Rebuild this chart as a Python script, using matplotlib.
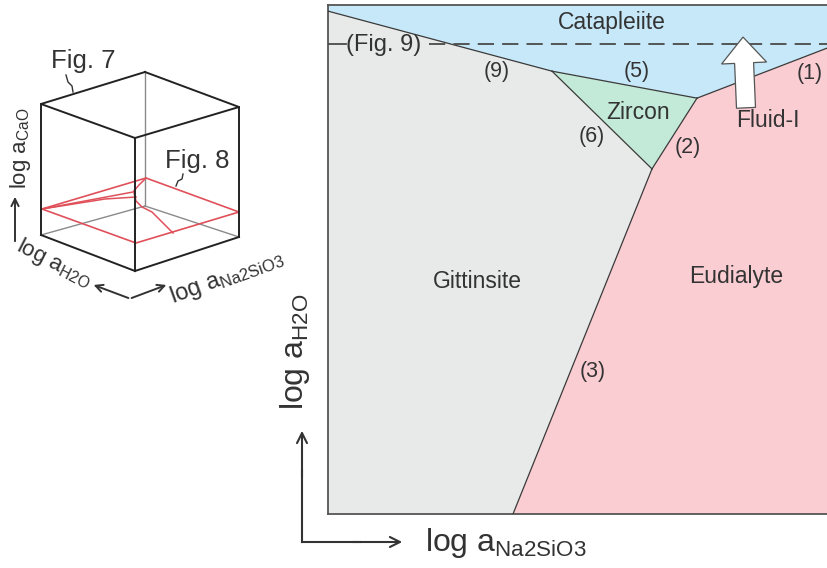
import matplotlib
matplotlib.use("Agg")
import matplotlib.pyplot as plt
from matplotlib.patches import Polygon, FancyArrow

plt.rcParams["font.family"] = ["Liberation Sans", "DejaVu Sans"]
plt.rcParams["mathtext.fontset"] = "custom"
plt.rcParams["mathtext.rm"] = "Liberation Sans"
plt.rcParams["mathtext.it"] = "Liberation Sans"

# ---- phase-field geometry (relative log-activity units, 0-100) ----
left_top = (0.0, 98.8)      # catapleiite / gittinsite boundary at left edge
pt_A = (44.8, 87.0)         # catapleiite-gittinsite-zircon
pt_B = (73.8, 81.7)         # catapleiite-zircon-eudialyte
right_top = (100.0, 91.6)   # catapleiite / eudialyte boundary at right edge
pt_C = (64.8, 67.8)         # gittinsite-zircon-eudialyte
bottom_end = (37.0, 0.0)    # gittinsite / eudialyte boundary at bottom edge
fig9_level = 92.4           # section of Fig. 9

field_names = ["Catapleiite", "Gittinsite", "Zircon", "Eudialyte"]
field_colors = ["#c6e8f8", "#e8e9e9", "#c3ead8", "#f9cdd2"]
field_polys = [
    [(0, 100), left_top, pt_A, pt_B, right_top, (100, 100)],
    [(0, 0), left_top, pt_A, pt_C, bottom_end],
    [pt_A, pt_B, pt_C],
    [bottom_end, pt_C, pt_B, right_top, (100, 0)],
]
field_label_pos = [(56.8, 96.6), (29.8, 45.6), (62.0, 78.8), (81.7, 46.6)]

reaction_labels = ["(1)", "(2)", "(3)", "(5)", "(6)", "(9)"]
reaction_pos = [(96.4, 86.6), (72.0, 72.1), (53.0, 27.9),
                (61.8, 87.0), (52.8, 74.1), (33.8, 87.0)]

boundaries = [
    [left_top, pt_A],
    [pt_A, pt_B],
    [pt_B, right_top],
    [pt_A, pt_C],
    [pt_B, pt_C],
    [pt_C, bottom_end],
]

# fluid evolution arrow (tail, tip)
fluid_tail = (83.6, 79.8)
fluid_tip = (83.0, 93.7)

# ---- inset block diagram (figure pixel coordinates) ----
cube_top = [(145, 72), (41, 104), (135, 138), (239, 107)]
cube_bottom = [(145, 206), (41, 235), (135, 271), (239, 237)]
section_plane = [(42, 209), (136, 243), (239, 212), (146, 178)]
section_lines = [
    [(42, 209), (133, 192), (139, 185), (146, 178)],
    [(42, 209), (105, 199), (136, 197)],
    [(134, 193), (136, 201), (142, 207), (152, 212), (173, 233)],
]

TXT = "#333333"
LINE = "#3a3a3a"
RED = "#e0505a"

fig = plt.figure(figsize=(8.28, 5.68), dpi=100)

# ---- main diagram ----
W, H = 828.0, 568.0
ax = fig.add_axes([328 / W, (H - 514) / H, 500 / W, 509 / H])
ax.set_xlim(0, 100)
ax.set_ylim(0, 100)
for poly, col in zip(field_polys, field_colors):
    ax.add_patch(Polygon(poly, closed=True, facecolor=col, edgecolor="none", zorder=1))
for seg_pts in boundaries:
    xs, ys = zip(*seg_pts)
    ax.plot(xs, ys, color=LINE, lw=0.9, zorder=3)

ax.plot([20.2, 100], [fig9_level, fig9_level], color="#4a4a4a", lw=1.3,
        dashes=(9, 4.5), zorder=4)
ax.plot([0, 3.6], [fig9_level, fig9_level], color="#4a4a4a", lw=1.3, zorder=4)
ax.text(3.7, fig9_level - 0.2, "(Fig. 9)", ha="left", va="center", fontsize=17, color=TXT, zorder=5)

for name, (x, y) in zip(field_names, field_label_pos):
    ax.text(x, y, name, ha="center", va="center", fontsize=16.5, color=TXT, zorder=5)
for lab, (x, y) in zip(reaction_labels, reaction_pos):
    ax.text(x, y, lab, ha="center", va="center", fontsize=15.5, color=TXT, zorder=5)

ax.add_patch(FancyArrow(fluid_tail[0], fluid_tail[1], fluid_tip[0] - fluid_tail[0],
                        fluid_tip[1] - fluid_tail[1], width=3.8, head_width=9.0,
                        head_length=5.1, length_includes_head=True,
                        facecolor="white", edgecolor="#555555", lw=0.9, zorder=6))
ax.text(88.0, 77.4, "Fluid-I", ha="center", va="center", fontsize=16.5, color=TXT, zorder=5)

ax.set_xticks([])
ax.set_yticks([])
for side in ["left", "top", "bottom"]:
    ax.spines[side].set_color("#555555")
    ax.spines[side].set_linewidth(1.3)
ax.spines["right"].set_visible(False)

# ---- overlay for axis arrows, labels and the block diagram ----
ov = fig.add_axes([0, 0, 1, 1], zorder=10)
ov.set_xlim(0, W)
ov.set_ylim(H, 0)
ov.axis("off")
ov.patch.set_visible(False)

arrow_kw = dict(arrowstyle="->", color="#333333", lw=1.5, mutation_scale=18)
ov.plot([302, 302], [542, 470], color="#333333", lw=1.5)
ov.annotate("", xy=(302, 428), xytext=(302, 480), arrowprops=arrow_kw)
ov.plot([302, 360], [542, 542], color="#333333", lw=1.5)
ov.annotate("", xy=(405, 542), xytext=(350, 542), arrowprops=arrow_kw)
ov.text(295, 352, r"log a$_{\mathregular{H2O}}$", rotation=90, ha="center", va="center",
        fontsize=23, color=TXT)
ov.text(425, 543, r"log a$_{\mathregular{Na2SiO3}}$", ha="left", va="center",
        fontsize=23, color=TXT)

# block diagram
def seg(p, q, **kw):
    ov.plot([p[0], q[0]], [p[1], q[1]], **kw)

gray = dict(color="#8a8a8a", lw=1.0)
black = dict(color="#222222", lw=1.4)
seg(cube_top[0], cube_bottom[0], **gray)
seg(cube_bottom[0], cube_bottom[1], **gray)
seg(cube_bottom[0], cube_bottom[3], **gray)

sp = section_plane + [section_plane[0]]
ov.plot([p[0] for p in sp], [p[1] for p in sp], color=RED, lw=1.2)
for line in section_lines:
    ov.plot([p[0] for p in line], [p[1] for p in line], color=RED, lw=1.1)

top_loop = cube_top + [cube_top[0]]
ov.plot([p[0] for p in top_loop], [p[1] for p in top_loop], **black)
for i in (1, 2, 3):
    seg(cube_top[i], cube_bottom[i], **black)
seg(cube_bottom[1], cube_bottom[2], **black)
seg(cube_bottom[2], cube_bottom[3], **black)

ov.text(83, 61, "Fig. 7", ha="center", va="center", fontsize=18.5, color=TXT)
ov.plot([66, 68, 72, 73], [75, 82, 86, 92], color="#333333", lw=1.0)
ov.text(197, 161, "Fig. 8", ha="center", va="center", fontsize=18.5, color=TXT)
ov.plot([183, 182, 178, 176], [174, 179, 181, 186], color="#333333", lw=1.0)

small_arrow = dict(arrowstyle="->", color="#333333", lw=1.4, mutation_scale=13)
ov.annotate("", xy=(15, 194), xytext=(15, 244), arrowprops=small_arrow)
ov.text(21, 148, r"log a$_{\mathregular{CaO}}$", rotation=90, ha="center", va="center",
        fontsize=16, color=TXT)
ov.annotate("", xy=(91, 284), xytext=(131, 299), arrowprops=small_arrow)
ov.annotate("", xy=(169, 284), xytext=(129, 299), arrowprops=small_arrow)
ov.text(54, 263, r"log a$_{\mathregular{H2O}}$", rotation=-27, ha="center", va="center",
        fontsize=16, color=TXT, rotation_mode="anchor")
ov.text(227, 277, r"log a$_{\mathregular{Na2SiO3}}$", rotation=20, ha="center", va="center",
        fontsize=17, color=TXT, rotation_mode="anchor")

fig.savefig("out.png", dpi=100)
